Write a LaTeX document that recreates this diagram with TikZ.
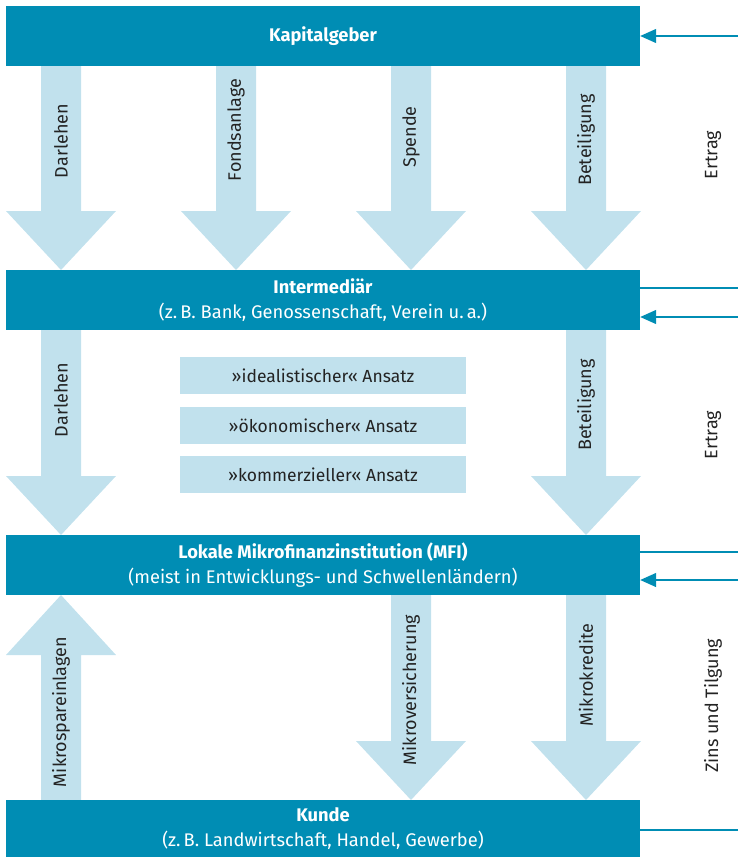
\documentclass[tikz,border=0pt]{standalone}
\usepackage{fontspec}
\setmainfont{Fira Sans}
\usetikzlibrary{arrows.meta}
\definecolor{dblue}{RGB}{0,141,180}
\definecolor{lblue}{RGB}{193,225,237}
\definecolor{tgray}{RGB}{35,35,35}
\newcommand\mydarr[3]{% cx, top, tip
  \fill[lblue] (#1-20,#2) -- (#1+20,#2) -- (#1+20,#3-59) -- (#1+55,#3-59) -- (#1,#3) -- (#1-55,#3-59) -- (#1-20,#3-59) -- cycle;}
\newcommand\myuarr[3]{% cx, bottom, tip
  \fill[lblue] (#1-20,#2) -- (#1+20,#2) -- (#1+20,#3+60) -- (#1+55,#3+60) -- (#1,#3) -- (#1-55,#3+60) -- (#1-20,#3+60) -- cycle;}
\tikzset{
  bar/.style={fill=dblue, text=white, minimum width=634pt, inner sep=0pt, align=center, font=\fontsize{18.3}{24.5}\selectfont},
  lab/.style={rotate=90, text=tgray, font=\fontsize{18}{20}\selectfont, inner sep=0pt},
  appr/.style={fill=lblue, text=tgray, minimum width=286pt, minimum height=37pt, inner sep=0pt, font=\fontsize{17.5}{20}\selectfont},
  conn/.style={draw=dblue, line width=1.3pt},
  connarr/.style={conn, -{Triangle[length=16pt,width=14pt]}}
}
\begin{document}
\begin{tikzpicture}[x=1pt,y=-1pt]
\useasboundingbox (0,0) rectangle (738,857);
% arrows row 1
\mydarr{61}{66}{270}
\mydarr{236}{66}{270}
\mydarr{411}{66}{270}
\mydarr{586}{66}{270}
% arrows row 2
\mydarr{61}{330}{535}
\mydarr{586}{330}{535}
% arrows row 3
\myuarr{61}{800}{595}
\mydarr{411}{595}{800}
\mydarr{586}{595}{800}
% bars
\node[bar, minimum height=60pt] (kg) at (323,36) {\textbf{Kapitalgeber}};
\node[bar, minimum height=60pt] (im) at (323,300) {\textbf{Intermediär}\\(z.\,B. Bank, Genossenschaft, Verein u.\,a.)};
\node[bar, minimum height=60pt] (mfi) at (323,565) {\textbf{Lokale Mikrofinanzinstitution (MFI)}\\(meist in Entwicklungs- und Schwellenländern)};
\node[bar, minimum height=57pt] (ku) at (323,828.5) {\textbf{Kunde}\\(z.\,B. Landwirtschaft, Handel, Gewerbe)};
% arrow labels
\node[lab] (l1) at (61,141) {Darlehen};
\node[lab] (l2) at (236,130) {Fondsanlage};
\node[lab] (l3) at (411,137) {Spende};
\node[lab] (l4) at (586,140) {Beteiligung};
\node[lab] (l5) at (61,400) {Darlehen};
\node[lab] (l6) at (586,405) {Beteiligung};
\node[lab] (l7) at (61,712) {Mikrospareinlagen};
\node[lab] (l8) at (411,690) {Mikroversicherung};
\node[lab] (l9) at (586,675) {Mikrokredite};
% approach boxes
\node[appr] (a1) at (323,375.5) {»idealistischer« Ansatz};
\node[appr] (a2) at (323,425.5) {»ökonomischer« Ansatz};
\node[appr] (a3) at (323,474.5) {»kommerzieller« Ansatz};
% right side
\coordinate (r1) at (738,36);
\coordinate (r2a) at (738,288);
\coordinate (r2b) at (738,317);
\coordinate (r3a) at (738,552);
\coordinate (r3b) at (738,580);
\coordinate (r4) at (738,830);
\draw[connarr] (r1) -- (kg.east |- r1);
\draw[conn] (r2a) -- (im.east |- r2a);
\draw[connarr] (r2b) -- (im.east |- r2b);
\draw[conn] (r3a) -- (mfi.east |- r3a);
\draw[connarr] (r3b) -- (mfi.east |- r3b);
\draw[conn] (r4) -- (ku.east |- r4);
\node[lab] (e1) at (713,155) {Ertrag};
\node[lab] (e2) at (713,435) {Ertrag};
\node[lab] (e3) at (713,706) {Zins und Tilgung};
\end{tikzpicture}
\end{document}
